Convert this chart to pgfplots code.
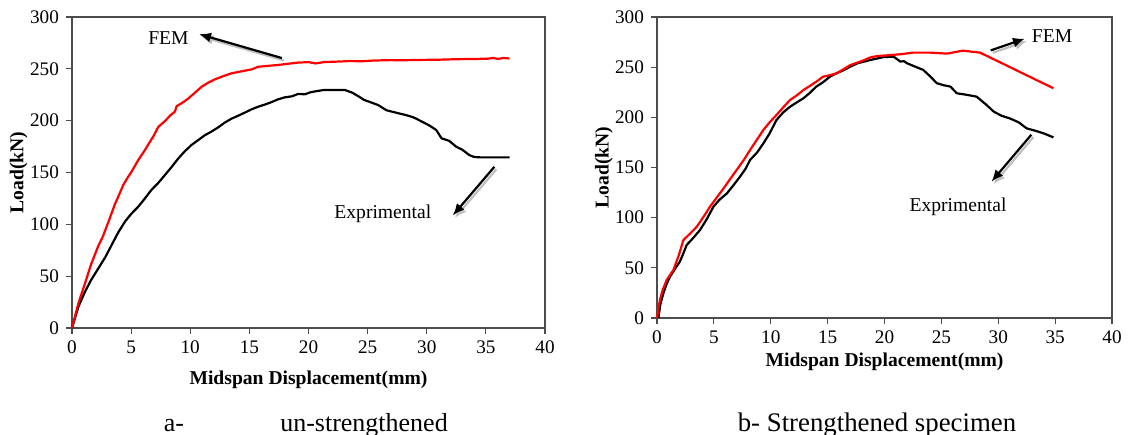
\documentclass[border=0pt]{standalone}
\usepackage{pgfplots}
\pgfplotsset{compat=1.18}
\usepackage{fontspec}
\setmainfont{Liberation Serif}
\usetikzlibrary{arrows.meta}
\pgfplotsset{
  myax/.style={
    scale only axis, anchor=south west, clip=false,
    xmin=0,xmax=40,ymin=0,ymax=300,
    xtick={0,5,...,40}, ytick={0,50,...,300},
    tick align=outside, xtick pos=bottom, ytick pos=left,
    major tick length=3pt,
    axis line style={black!70,line width=0.6pt},
    tick style={black!70,line width=0.6pt},
    ticklabel style={font=\fontsize{9.6}{11}\selectfont},
    /pgf/number format/assume math mode=true,
    label style={font=\fontsize{9.8}{11}\selectfont\bfseries},
  },
}
\tikzset{
  fem/.style={red, line width=1.1pt, line join=round},
  exp/.style={black, line width=1.1pt, line join=round},
  arr/.style={-{Latex[length=6pt,width=5pt]}, line width=1.1pt, black},
  shd/.style={-{Latex[length=6pt,width=5pt]}, line width=1.1pt, black!25},
  ann/.style={font=\fontsize{9.8}{11}\selectfont},
}
\begin{document}
\begin{tikzpicture}
\useasboundingbox (0,0) rectangle (564pt,217pt);
% ---------------- left ----------------
\begin{axis}[myax, width=236.5pt, height=155.5pt, at={(36pt,53pt)},
  xlabel={Midspan Displacement(mm)}, ylabel={Load(kN)},
  x label style={at={(axis description cs:0.5,-0.167)},anchor=center},
  y label style={at={(axis description cs:-0.113,0.5)},anchor=center}]
\addplot[exp] coordinates {(0,0) (0.54,20.6) (1.1,35) (1.6,46) (2.2,57) (2.8,68) (3.35,80) (3.9,92) (4.48,102.6) (5.0,110) (5.6,117) (6.1,124) (6.7,133) (7.3,140) (7.86,147.6) (8.4,155) (9.0,163.7) (9.5,170) (10.1,176.5) (10.7,181.5) (11.24,186) (11.8,189.5) (12.37,193.6) (12.9,198) (13.5,202) (14.0,204.5) (14.6,207.7) (15.2,211) (15.75,213.5) (16.3,215.5) (16.9,218) (17.4,220.5) (18.0,222.5) (18.6,223.5) (19.1,225.7) (19.7,225.5) (20.2,227.5) (20.7,228.5) (21.25,229.5) (22.2,229.5) (23.1,229.5) (23.7,227) (24.3,223) (24.7,220) (25.2,218) (25.9,215) (26.6,210) (27.3,208) (28.2,205.5) (28.8,203.5) (29.1,202) (29.6,199) (30.2,195.5) (30.8,191) (31.25,183) (31.9,180.5) (32.5,174.8) (33.0,172) (33.6,166.8) (34.0,165) (34.5,164.6) (37.0,164.6)};
\addplot[fem] coordinates {(0,0) (0.54,23.8) (1.1,43) (1.6,61) (2.2,78.5) (2.6,88) (3.07,102) (3.6,118.6) (4.0,129) (4.34,138) (4.7,145) (5.04,150.8) (5.6,162) (6.17,171.7) (6.5,178) (6.87,184.6) (7.3,194) (7.9,200) (8.3,205) (8.7,208.7) (8.85,214) (9.3,217) (9.85,221.5) (10.4,227) (10.97,232.8) (11.5,236.5) (12.1,239.9) (12.8,243) (13.5,245.7) (14.3,247.5) (15.2,249.5) (15.75,252) (16.5,252.8) (17.4,253.7) (18.2,254.8) (19.1,256) (20.0,256.5) (20.6,255.2) (21.3,256.5) (22.5,257) (23.5,257.5) (24.5,257.3) (25.5,258) (26.9,258.4) (28,258.3) (29.5,258.6) (31,258.8) (32.5,259.3) (34.0,259.5) (35.2,259.8) (35.6,260.5) (36.0,259.6) (36.5,260.4) (37.0,260)};
\draw[shd] ([xshift=1pt,yshift=-1.2pt]axis cs:17.75,260.4) -- ([xshift=1pt,yshift=-1.2pt]axis cs:10.74,283.5);
\draw[arr] (axis cs:17.75,260.4) -- (axis cs:10.74,283.5);
\draw[shd] ([xshift=1pt,yshift=-1.2pt]axis cs:35.72,155.5) -- ([xshift=1pt,yshift=-1.2pt]axis cs:32.2,108.5);
\draw[arr] (axis cs:35.72,155.5) -- (axis cs:32.2,108.5);
\node[ann] at (axis cs:8.16,279.7) {FEM};
\node[ann] at (axis cs:26.29,109.9) {Exprimental};
\end{axis}
% ---------------- right ----------------
\begin{axis}[myax, width=227.5pt, height=150.5pt, at={(328.5pt,58pt)},
  xlabel={Midspan Displacement(mm)}, ylabel={Load(kN)},
  x label style={at={(axis description cs:0.5,-0.146)},anchor=center},
  y label style={at={(axis description cs:-0.1165,0.5)},anchor=center}]
\addplot[exp] coordinates {(0.12,0) (0.3,14) (0.56,24.6) (0.85,34) (1.14,41.2) (1.7,51) (2.0,56) (2.32,64.5) (2.61,72.8) (3.2,80) (3.78,87.7) (4.4,99) (4.96,111) (5.5,118) (6.13,124) (6.7,132) (7.3,140.9) (7.8,149) (8.18,157.5) (8.8,165) (9.35,174) (9.9,184) (10.5,197.3) (11.1,205) (11.7,210.6) (12.3,215) (12.87,219) (13.4,224) (14.0,230.6) (14.6,235) (15.2,240.5) (15.8,244) (16.4,247) (17.0,250.5) (17.6,253.8) (18.2,255.5) (18.7,257) (19.3,258.5) (19.9,260) (20.8,260.5) (21.4,255.5) (21.7,256) (22.0,253.8) (22.7,250.5) (23.4,247.3) (24.0,241) (24.6,234) (25.2,232) (25.8,230.6) (26.35,224) (27.2,222.5) (28.1,220.6) (28.9,213) (29.6,205.7) (30.3,201.5) (31.0,199) (31.8,195) (32.5,189) (33.3,186.5) (34.0,184) (34.85,180)};
\addplot[fem] coordinates {(0,0) (0.1,8) (0.26,18) (0.5,28) (0.85,37.9) (1.44,47.8) (1.9,62) (2.32,77.7) (2.9,84) (3.5,91) (4.1,101) (4.66,111) (5.25,120) (5.84,129) (6.4,138) (7.0,147.5) (7.6,157) (8.18,167.4) (8.8,178) (9.35,187.4) (9.9,195) (10.5,202.3) (11.1,210) (11.7,217.3) (12.3,222) (12.87,227.2) (13.4,231) (14.0,235.5) (14.6,240.5) (15.2,242) (15.8,243.9) (16.4,248) (16.98,252) (17.6,254.5) (18.2,257) (18.7,259.5) (19.3,261) (20.5,262) (21.5,263) (22.5,264.5) (24.0,264.5) (25.5,263.5) (26.2,265) (26.9,266.5) (27.6,265.5) (28.4,264.5) (34.85,229)};
\draw[shd] ([xshift=1pt,yshift=-1.2pt]axis cs:29.34,266.7) -- ([xshift=1pt,yshift=-1.2pt]axis cs:32.35,278.5);
\draw[arr] (axis cs:29.34,266.7) -- (axis cs:32.35,278.5);
\draw[shd] ([xshift=1pt,yshift=-1.2pt]axis cs:32.91,182.7) -- ([xshift=1pt,yshift=-1.2pt]axis cs:29.4,135.8);
\draw[arr] (axis cs:32.91,182.7) -- (axis cs:29.4,135.8);
\node[ann] at (axis cs:34.73,281.2) {FEM};
\node[ann] at (axis cs:26.46,110.7) {Exprimental};
\end{axis}
% captions
\node[anchor=base, font=\fontsize{13}{15}\selectfont, inner sep=0pt] at (87pt,1.5pt) {a-};
\node[anchor=base, font=\fontsize{13}{15}\selectfont, inner sep=0pt] at (182pt,1.5pt) {un-strengthened};
\node[anchor=base, font=\fontsize{13.4}{15}\selectfont, inner sep=0pt] at (438.5pt,1.5pt) {b- Strengthened specimen};
\end{tikzpicture}
\end{document}
